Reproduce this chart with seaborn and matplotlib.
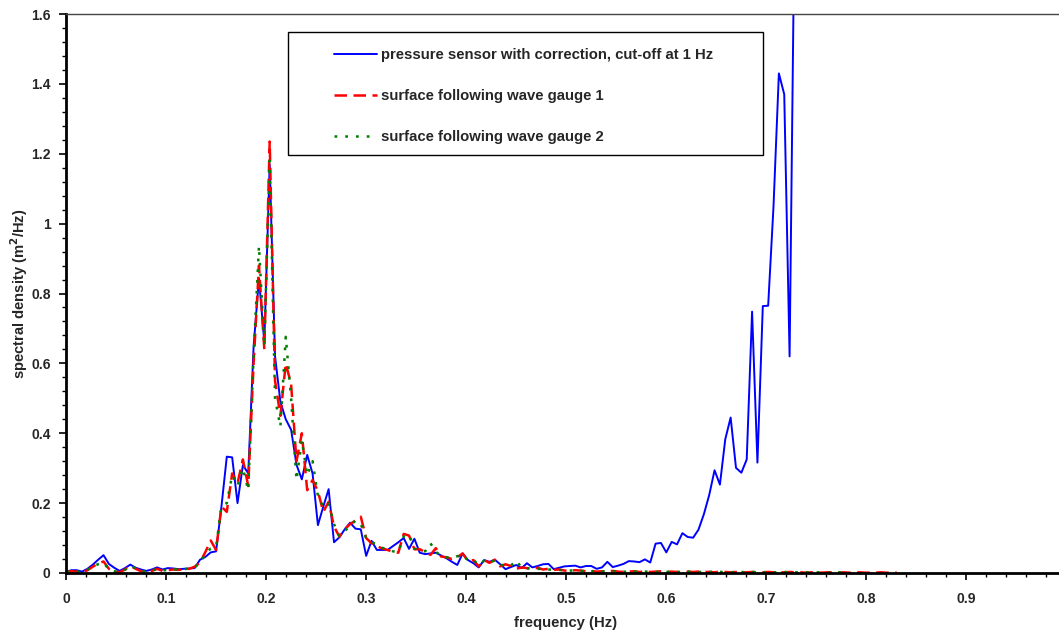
import numpy as np
import pandas as pd
import matplotlib
matplotlib.use('Agg')
import matplotlib.pyplot as plt
import seaborn as sns
from matplotlib.ticker import MultipleLocator, FuncFormatter
from matplotlib.patches import Rectangle

# frequency resolution of the spectra (Hz)
DF = 0.00536

# pressure sensor with correction, cut-off at 1 Hz
pressure = [
    0.003, 0.008, 0.008, 0.004, 0.012, 0.024, 0.038, 0.051, 0.026, 0.015,
    0.006, 0.014, 0.024, 0.015, 0.010, 0.006, 0.010, 0.016, 0.010, 0.014,
    0.013, 0.011, 0.012, 0.013, 0.014, 0.038, 0.046, 0.059, 0.062, 0.190,
    0.333, 0.331, 0.200, 0.309, 0.285, 0.648, 0.843, 0.660, 1.170, 0.620,
    0.490, 0.440, 0.410, 0.310, 0.268, 0.338, 0.285, 0.137, 0.190, 0.240,
    0.088, 0.102, 0.125, 0.144, 0.127, 0.125, 0.049, 0.092, 0.066, 0.066,
    0.066, 0.077, 0.088, 0.100, 0.069, 0.098, 0.058, 0.054, 0.056, 0.058,
    0.050, 0.042, 0.032, 0.023, 0.056, 0.037, 0.028, 0.016, 0.037, 0.032,
    0.038, 0.025, 0.011, 0.017, 0.023, 0.014, 0.028, 0.016, 0.020, 0.025,
    0.026, 0.011, 0.015, 0.019, 0.020, 0.021, 0.016, 0.020, 0.020, 0.012,
    0.016, 0.032, 0.017, 0.021, 0.026, 0.034, 0.033, 0.031, 0.039, 0.030,
    0.084, 0.086, 0.059, 0.089, 0.082, 0.114, 0.103, 0.101, 0.124, 0.168,
    0.223, 0.294, 0.253, 0.383, 0.445, 0.301, 0.287, 0.325, 0.748, 0.316,
    0.764, 0.765, 1.050, 1.430, 1.370, 0.620, 2.000,
]

# surface following wave gauge 1
gauge1 = [
    0.003, 0.005, 0.004, 0.002, 0.008, 0.018, 0.027, 0.033, 0.012, 0.004,
    0.002, 0.010, 0.020, 0.012, 0.005, 0.003, 0.006, 0.012, 0.006, 0.008,
    0.010, 0.009, 0.010, 0.012, 0.018, 0.030, 0.060, 0.093, 0.066, 0.190,
    0.175, 0.285, 0.257, 0.325, 0.249, 0.600, 0.880, 0.640, 1.235, 0.550,
    0.450, 0.600, 0.540, 0.320, 0.400, 0.237, 0.266, 0.234, 0.175, 0.204,
    0.133, 0.104, 0.125, 0.140, 0.150, 0.161, 0.100, 0.085, 0.077, 0.070,
    0.066, 0.060, 0.058, 0.112, 0.107, 0.068, 0.068, 0.060, 0.052, 0.071,
    0.047, 0.045, 0.040, 0.045, 0.056, 0.034, 0.037, 0.019, 0.037, 0.029,
    0.038, 0.019, 0.025, 0.020, 0.012, 0.016, 0.014, 0.012, 0.015, 0.010,
    0.012, 0.009, 0.010, 0.007, 0.006, 0.008, 0.007, 0.005, 0.006, 0.004,
    0.005, 0.004, 0.006, 0.004, 0.003, 0.004, 0.005, 0.003, 0.004, 0.003,
    0.004, 0.005, 0.003, 0.004, 0.003, 0.002, 0.004, 0.003, 0.004, 0.003,
    0.003, 0.002, 0.004, 0.003, 0.002, 0.003, 0.002, 0.002, 0.003, 0.002,
    0.002, 0.003, 0.002, 0.002, 0.002, 0.003, 0.002, 0.002, 0.001, 0.002,
    0.002, 0.001, 0.002, 0.002, 0.001, 0.002, 0.001, 0.001, 0.002, 0.001,
    0.001, 0.001, 0.002, 0.001, 0.001, 0.001,
]

# surface following wave gauge 2
gauge2 = [
    0.004, 0.006, 0.004, 0.003, 0.009, 0.020, 0.025, 0.030, 0.010, 0.005,
    0.003, 0.009, 0.022, 0.013, 0.006, 0.004, 0.007, 0.011, 0.007, 0.009,
    0.011, 0.010, 0.011, 0.013, 0.017, 0.028, 0.055, 0.070, 0.075, 0.190,
    0.200, 0.280, 0.250, 0.300, 0.237, 0.620, 0.936, 0.648, 1.180, 0.500,
    0.419, 0.676, 0.500, 0.266, 0.380, 0.280, 0.320, 0.220, 0.190, 0.200,
    0.140, 0.106, 0.120, 0.135, 0.150, 0.140, 0.100, 0.090, 0.080, 0.072,
    0.068, 0.062, 0.060, 0.105, 0.110, 0.070, 0.065, 0.062, 0.085, 0.060,
    0.050, 0.045, 0.042, 0.048, 0.052, 0.036, 0.038, 0.022, 0.035, 0.030,
    0.036, 0.022, 0.024, 0.021, 0.036, 0.015, 0.013, 0.014, 0.012, 0.011,
    0.010, 0.009, 0.009, 0.007, 0.007, 0.007, 0.006, 0.006, 0.005, 0.005,
    0.004, 0.005, 0.005, 0.004, 0.004, 0.003, 0.004, 0.003, 0.004, 0.004,
    0.003, 0.004, 0.003, 0.004, 0.003, 0.003, 0.004, 0.003, 0.003, 0.003,
    0.003, 0.004, 0.003, 0.003, 0.002, 0.003, 0.003, 0.002, 0.003, 0.002,
    0.002, 0.003, 0.002, 0.002, 0.003, 0.002, 0.002, 0.002, 0.002, 0.002,
    0.002, 0.002, 0.001, 0.002, 0.002, 0.001,
]

labels = ['pressure sensor with correction, cut-off at 1 Hz',
          'surface following wave gauge 1',
          'surface following wave gauge 2']

sns.set_style('ticks')
plt.rcParams['font.family'] = ['Liberation Sans', 'DejaVu Sans']
plt.rcParams['font.weight'] = 'bold'

fig = plt.figure(figsize=(10.59, 6.34), dpi=100)
# axis runs 0..1 Hz, the right end is cropped off the picture
ax = fig.add_axes([66 / 1059, 61 / 634, 1000 / 1059, 559 / 634])

series = [
    (pressure, labels[0], dict(color='#0000ff', linewidth=1.4, linestyle='-')),
    (gauge1, labels[1], dict(color='#ff0000', linewidth=1.8, linestyle=(0, (5, 2.6)))),
    (gauge2, labels[2], dict(color='#007f00', linewidth=1.8, linestyle=(0, (1.1, 3.2)))),
]
for vals, lab, style in series:
    df = pd.DataFrame({'freq': np.arange(len(vals)) * DF, 'psd': vals})
    sns.lineplot(data=df, x='freq', y='psd', ax=ax, label=lab,
                 estimator=None, sort=False, **style)

ax.set_xlim(0, 1.0)
ax.set_ylim(0, 1.6)
ax.xaxis.set_major_locator(MultipleLocator(0.1))
ax.xaxis.set_minor_locator(MultipleLocator(0.02))
ax.yaxis.set_major_locator(MultipleLocator(0.2))
ax.yaxis.set_minor_locator(MultipleLocator(0.04))


def num(v):
    return f'{v:.1f}'.rstrip('0').rstrip('.') if abs(v) > 1e-9 else '0'


ax.xaxis.set_major_formatter(FuncFormatter(lambda v, p: '' if v > 0.95 else num(v)))
ax.yaxis.set_major_formatter(FuncFormatter(lambda v, p: num(v)))
ax.tick_params(which='major', direction='out', length=5, width=1.2, labelsize=10, color='black')
ax.tick_params(which='minor', direction='out', length=3, width=1.0, color='black')
ax.tick_params(axis='x', which='major', pad=9)
ax.tick_params(axis='y', which='major', pad=6)
for t in ax.get_xticklabels() + ax.get_yticklabels():
    t.set_fontweight('bold')

ax.spines['left'].set_linewidth(2)
ax.spines['bottom'].set_linewidth(2)
ax.spines['left'].set_color('black')
ax.spines['bottom'].set_color('black')
ax.spines['top'].set_linewidth(1)
ax.spines['top'].set_color('#444444')
ax.spines['right'].set_visible(False)

ax.set_xlabel('frequency (Hz)', fontsize=10.7, fontweight='bold', labelpad=7)
ax.set_ylabel('spectral density (m$^\\mathbf{2}$/Hz)', fontsize=10.6, fontweight='bold', labelpad=1)

# legend with a fixed box, as in the original spreadsheet chart
ax.legend_.remove()
handles, labs = ax.get_legend_handles_labels()
fig.legend(handles, labs, loc='upper left', bbox_to_anchor=(334 / 1059, 1 - 48 / 634),
           bbox_transform=fig.transFigure, frameon=False, borderpad=0, borderaxespad=0,
           handlelength=2.9, handletextpad=0.27, labelspacing=1.8,
           prop={'size': 10.75, 'weight': 'bold'})
fig.patches.append(Rectangle((288 / 1059, 1 - 155 / 634), 475 / 1059, 123 / 634,
                             transform=fig.transFigure, fill=False, edgecolor='black',
                             linewidth=1.0))

fig.savefig('out.png', dpi=100)
